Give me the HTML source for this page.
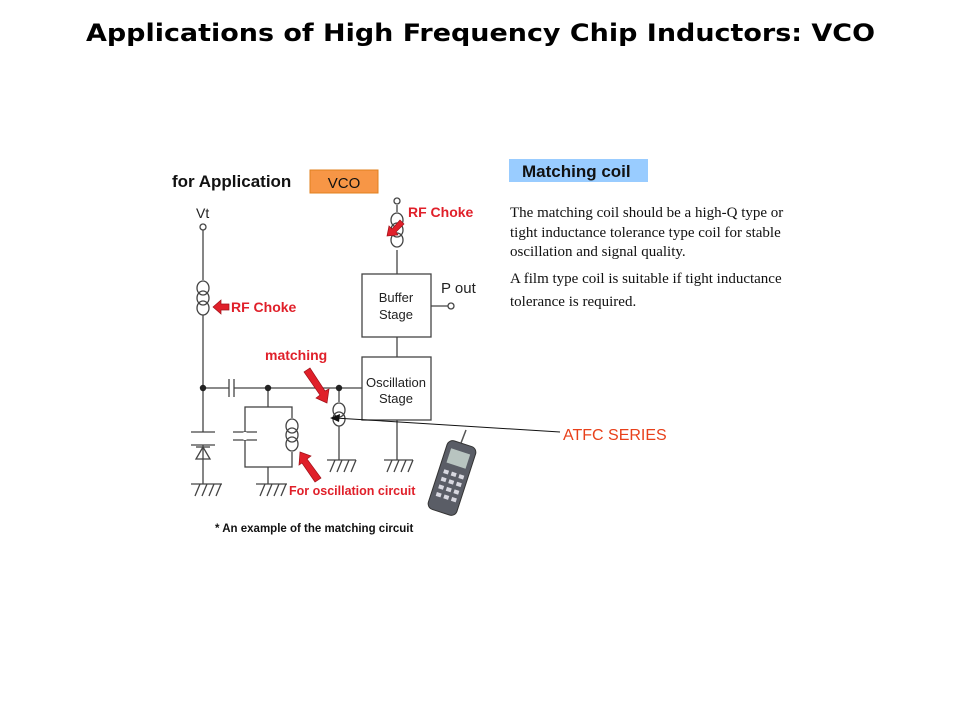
<!DOCTYPE html>
<html><head><meta charset="utf-8"><style>
body{margin:0;background:#fff;width:960px;height:720px;overflow:hidden}
svg{display:block}
</style></head><body>
<svg width="960" height="720" xmlns="http://www.w3.org/2000/svg" font-family="Liberation Sans, Arial, sans-serif">
<text x="86" y="41" font-size="24" font-weight="bold" font-family="DejaVu Sans, Verdana, sans-serif" textLength="789" lengthAdjust="spacingAndGlyphs">Applications of High Frequency Chip Inductors:  VCO</text>

<text x="172" y="187" font-size="17" font-weight="bold" fill="#111">for Application</text>
<rect x="310" y="170" width="68" height="23" fill="#f79646" stroke="#e0801f"/>
<text x="344" y="188" text-anchor="middle" font-size="15" fill="#111">VCO</text>

<g stroke="#444" stroke-width="1.3" fill="none">
<text x="196" y="218" font-size="14" fill="#222" stroke="none">Vt</text>
<circle cx="203" cy="227" r="3" fill="#fff"/>
<line x1="203" y1="230" x2="203" y2="280"/>
<ellipse cx="203" cy="288" rx="6" ry="7"/><ellipse cx="203" cy="298" rx="6" ry="7"/><ellipse cx="203" cy="308" rx="6" ry="7"/>
<line x1="203" y1="315" x2="203" y2="432"/>
<line x1="191" y1="432" x2="215" y2="432"/><line x1="191" y1="445" x2="215" y2="445"/>
<polygon points="203,447 196,459 210,459"/><line x1="196" y1="447" x2="210" y2="447"/>
<line x1="203" y1="445" x2="203" y2="484"/>
<line x1="203" y1="388" x2="229" y2="388"/><line x1="229" y1="379" x2="229" y2="397"/><line x1="234" y1="379" x2="234" y2="397"/>
<line x1="234" y1="388" x2="362" y2="388"/>
<line x1="268" y1="388" x2="268" y2="407"/>
<rect x="245" y="407" width="47" height="60"/>
<line x1="233" y1="432" x2="257" y2="432"/><line x1="233" y1="440" x2="257" y2="440"/>
<line x1="245" y1="432" x2="245" y2="440" stroke="#fff" stroke-width="3"/>
<line x1="292" y1="418" x2="292" y2="452" stroke="#fff" stroke-width="3"/>
<ellipse cx="292" cy="426" rx="6" ry="7"/><ellipse cx="292" cy="435" rx="6" ry="7"/><ellipse cx="292" cy="444" rx="6" ry="7"/>
<line x1="268" y1="467" x2="268" y2="484"/>
<line x1="339" y1="388" x2="339" y2="402"/>
<ellipse cx="339" cy="410" rx="6" ry="7"/><ellipse cx="339" cy="419" rx="6" ry="7"/>
<line x1="339" y1="426" x2="339" y2="460"/>
<rect x="362" y="357" width="69" height="63"/>
<rect x="362" y="274" width="69" height="63"/>
<line x1="397" y1="337" x2="397" y2="357"/>
<line x1="397" y1="420" x2="397" y2="460"/>
<line x1="397" y1="274" x2="397" y2="250"/>
<ellipse cx="397" cy="220" rx="6" ry="7"/><ellipse cx="397" cy="230" rx="6" ry="7"/><ellipse cx="397" cy="240" rx="6" ry="7"/>
<line x1="397" y1="212" x2="397" y2="205"/>
<circle cx="397" cy="201" r="3" fill="#fff"/>
<line x1="431" y1="306" x2="448" y2="306"/><circle cx="451" cy="306" r="3" fill="#fff"/>
<g>
<line x1="191" y1="484" x2="222" y2="484"/><path d="M195 496l5-12M202 496l5-12M209 496l5-12M216 496l5-12"/>
<line x1="256" y1="484" x2="287" y2="484"/><path d="M260 496l5-12M267 496l5-12M274 496l5-12M281 496l5-12"/>
<line x1="327" y1="460" x2="356" y2="460"/><path d="M330 472l5-12M337 472l5-12M344 472l5-12M351 472l5-12"/>
<line x1="384" y1="460" x2="413" y2="460"/><path d="M387 472l5-12M394 472l5-12M401 472l5-12M408 472l5-12"/>
</g>
</g>
<g fill="#222">
<circle cx="203" cy="388" r="3.2"/><circle cx="268" cy="388" r="3.2"/><circle cx="339" cy="388" r="3.2"/>
</g>
<g font-size="13" fill="#222" text-anchor="middle">
<text x="396" y="302">Buffer</text><text x="396" y="319">Stage</text>
<text x="396" y="387">Oscillation</text><text x="396" y="403">Stage</text>
</g>
<text x="441" y="293" font-size="15" fill="#222">P out</text>

<g fill="#e0202a" font-weight="bold" font-size="14">
<text x="231" y="312">RF Choke</text>
<text x="408" y="217">RF Choke</text>
<text x="265" y="360">matching</text>
<text x="289" y="495" font-size="12.5">For oscillation circuit</text>
</g>
<g fill="#e0202a" stroke="#a01018" stroke-width="0.7">
<polygon points="213,307 221,300 221,304 229,304 229,310 221,310 221,314"/>
<polygon points="387,236 389,226 392,229 400,220 404,224 396,232 398,235"/>
<polygon points="327,403 316,398 320,395 304,372 310,368 325,391 329,389"/>
<polygon points="300,452 311,456 307,459 321,478 315,482 302,463 299,465"/>
</g>

<line x1="335" y1="418" x2="560" y2="432" stroke="#111" stroke-width="1"/>
<polygon points="330,418 340,414 339,422" fill="#111"/>
<text x="563" y="440" font-size="16" fill="#e8401a">ATFC SERIES</text>

<line x1="466" y1="430" x2="461" y2="443" stroke="#555" stroke-width="1.5"/>
<g transform="rotate(18 452 478)">
<rect x="437" y="442" width="30" height="72" rx="6" fill="#5a5d66" stroke="#333"/>
<rect x="442" y="450" width="20" height="15" fill="#b8c4c0"/>
<g fill="#d8d8e0">
<rect x="442" y="472" width="5" height="4"/><rect x="450" y="472" width="5" height="4"/><rect x="458" y="472" width="5" height="4"/>
<rect x="442" y="480" width="5" height="4"/><rect x="450" y="480" width="5" height="4"/><rect x="458" y="480" width="5" height="4"/>
<rect x="442" y="488" width="5" height="4"/><rect x="450" y="488" width="5" height="4"/><rect x="458" y="488" width="5" height="4"/>
<rect x="442" y="496" width="5" height="4"/><rect x="450" y="496" width="5" height="4"/><rect x="458" y="496" width="5" height="4"/>
</g>
</g>

<text x="215" y="532" font-size="11.5" font-weight="bold" fill="#111">* An example of the matching circuit</text>

<rect x="509" y="159" width="139" height="23" fill="#99ccff"/>
<text x="522" y="177" font-size="17" font-weight="bold" fill="#111">Matching coil</text>
<g font-family="Liberation Serif, Times New Roman, serif" font-size="15" fill="#111">
<text x="510" y="217">The matching coil should be a high-Q type or</text>
<text x="510" y="237">tight inductance tolerance type coil for stable</text>
<text x="510" y="256">oscillation and signal quality.</text>
<text x="510" y="283">A film type coil is suitable if tight inductance</text>
<text x="510" y="306">tolerance is required.</text>
</g>
</svg>
</body></html>
